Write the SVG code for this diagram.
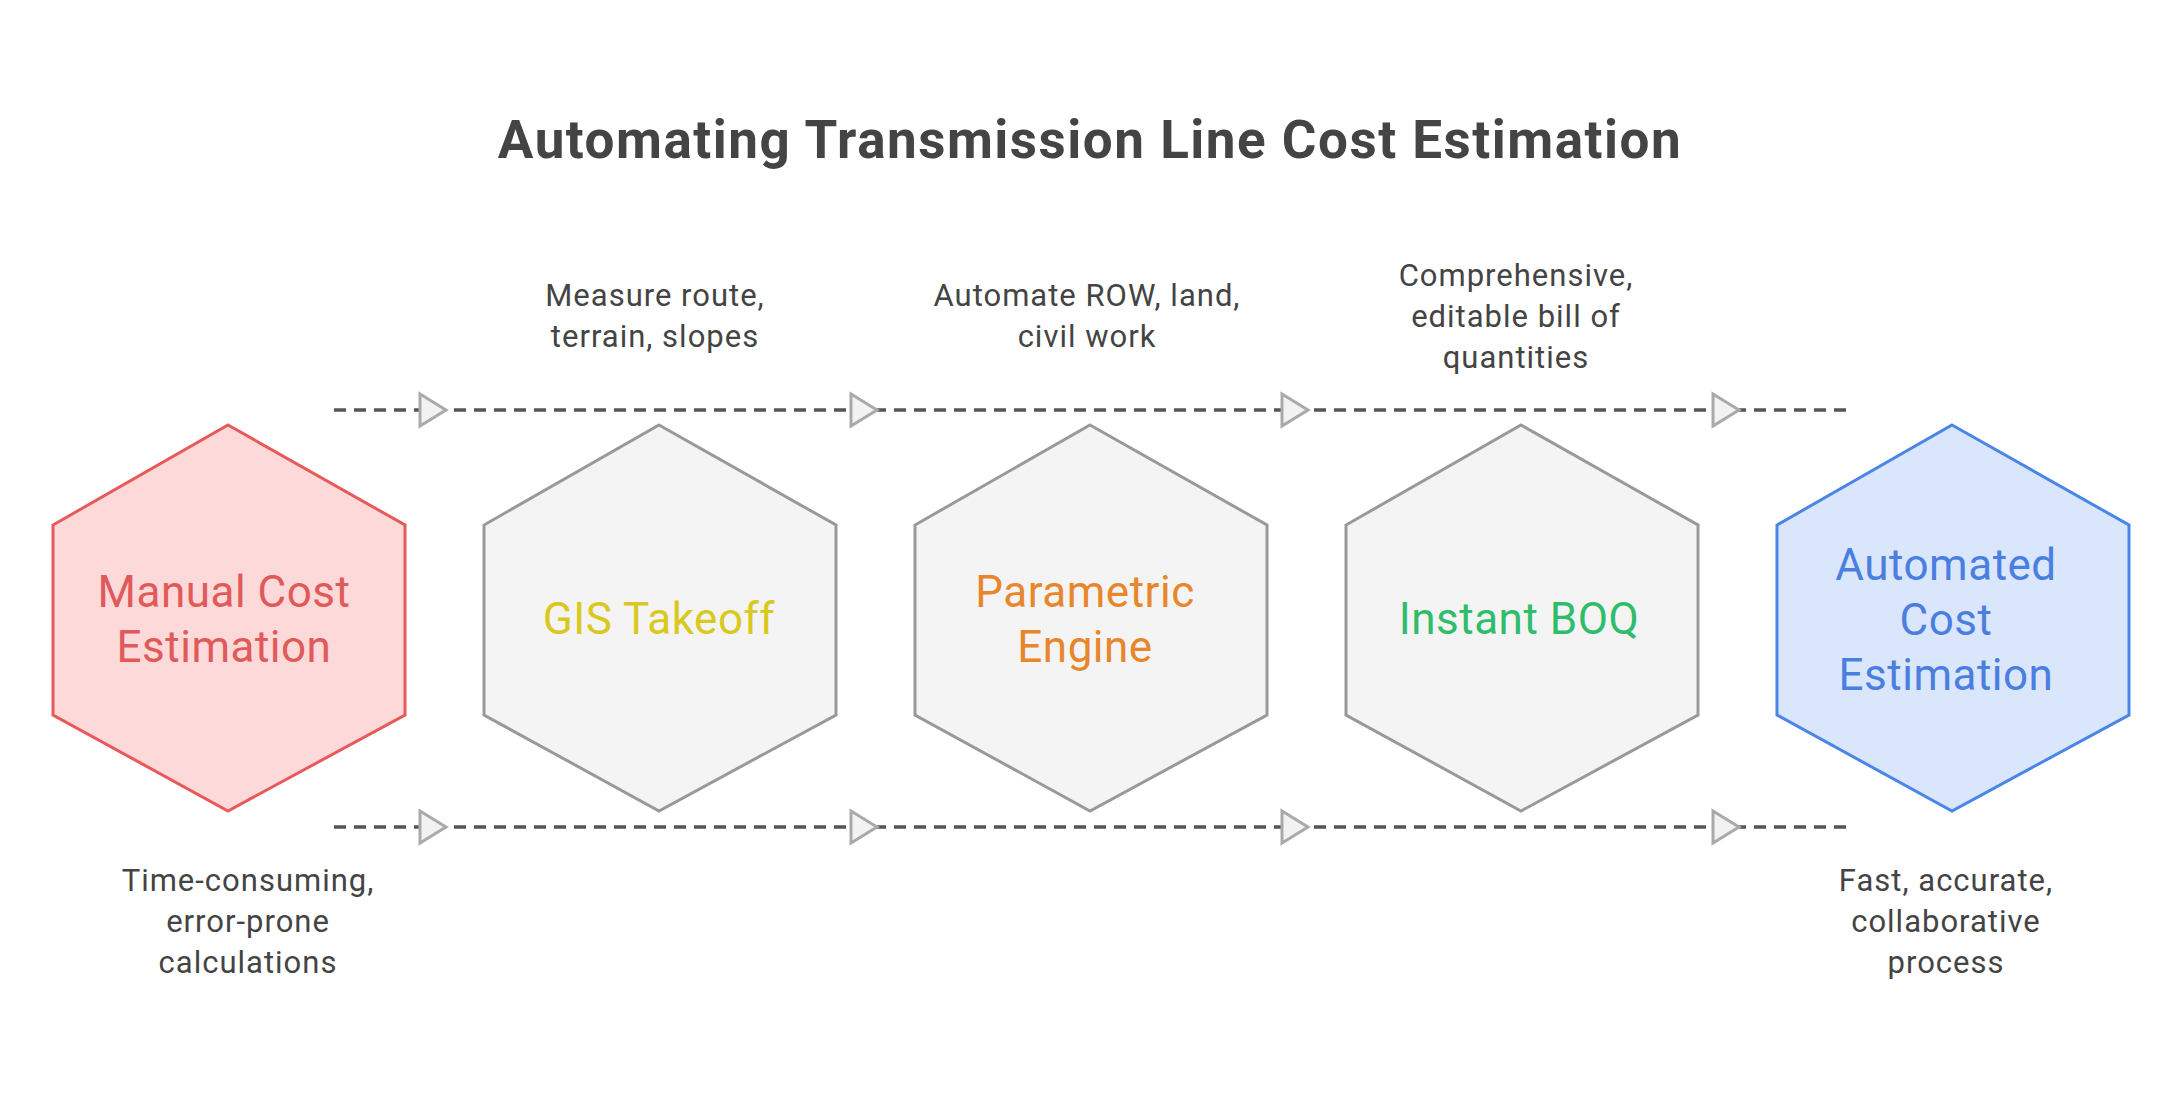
<svg xmlns="http://www.w3.org/2000/svg" width="2182" height="1120" viewBox="0 0 2182 1120">
<style>
text{font-family:Roboto,"Liberation Sans",sans-serif;text-anchor:middle}
.t{font-size:53px;font-weight:bold;fill:#444;letter-spacing:1.5px}
.l{font-size:31px;fill:#444;letter-spacing:1px}
.n{font-size:44px;letter-spacing:0.5px}
.d{stroke:#555;stroke-width:3.5;stroke-dasharray:12 8;fill:none}
.a{fill:#f2f2f2;stroke:#aaa;stroke-width:3}
.g{fill:#f4f4f4;stroke:#999;stroke-width:3}
</style>
<rect width="2182" height="1120" fill="#fff"/>
<text class="t" x="1090" y="158">Automating Transmission Line Cost Estimation</text>
<g id="connectors">
<line class="d" x1="334" y1="410" x2="1848" y2="410"/>
<line class="d" x1="334" y1="827" x2="1848" y2="827"/>
<g id="arrows">
<path class="a" d="M420 394 L446 410 L420 426 Z"/>
<path class="a" d="M851 394 L877 410 L851 426 Z"/>
<path class="a" d="M1282 394 L1308 410 L1282 426 Z"/>
<path class="a" d="M1713 394 L1739 410 L1713 426 Z"/>
<path class="a" d="M420 811 L446 827 L420 843 Z"/>
<path class="a" d="M851 811 L877 827 L851 843 Z"/>
<path class="a" d="M1282 811 L1308 827 L1282 843 Z"/>
<path class="a" d="M1713 811 L1739 827 L1713 843 Z"/>
</g>
</g>
<g id="manual">
<path d="M228 425 L405 525 L405 715 L228 811 L53 715 L53 525 Z" fill="#fdd9d9" stroke="#e85a5a" stroke-width="3"/>
<text class="n" x="224" y="607" fill="#e05a5a">Manual Cost</text>
<text class="n" x="224" y="662" fill="#e05a5a">Estimation</text>
<text class="l" x="248" y="891">Time-consuming,</text>
<text class="l" x="248" y="932">error-prone</text>
<text class="l" x="248" y="973">calculations</text>
</g>
<g id="gis">
<path class="g" d="M659 425 L836 525 L836 715 L659 811 L484 715 L484 525 Z"/>
<text class="n" x="659" y="634" fill="#d9c820">GIS Takeoff</text>
<text class="l" x="655" y="306">Measure route,</text>
<text class="l" x="655" y="347">terrain, slopes</text>
</g>
<g id="parametric">
<path class="g" d="M1090 425 L1267 525 L1267 715 L1090 811 L915 715 L915 525 Z"/>
<text class="n" x="1085" y="607" fill="#e8862c">Parametric</text>
<text class="n" x="1085" y="662" fill="#e8862c">Engine</text>
<text class="l" x="1087" y="306">Automate ROW, land,</text>
<text class="l" x="1087" y="347">civil work</text>
</g>
<g id="boq">
<path class="g" d="M1521 425 L1698 525 L1698 715 L1521 811 L1346 715 L1346 525 Z"/>
<text class="n" x="1519" y="634" fill="#2fbd6c">Instant BOQ</text>
<text class="l" x="1516" y="286">Comprehensive,</text>
<text class="l" x="1516" y="327">editable bill of</text>
<text class="l" x="1516" y="368">quantities</text>
</g>
<g id="automated">
<path d="M1952 425 L2129 525 L2129 715 L1952 811 L1777 715 L1777 525 Z" fill="#dae6fb" stroke="#4a86e8" stroke-width="3"/>
<text class="n" x="1946" y="580" fill="#4a7fe0">Automated</text>
<text class="n" x="1946" y="635" fill="#4a7fe0">Cost</text>
<text class="n" x="1946" y="690" fill="#4a7fe0">Estimation</text>
<text class="l" x="1946" y="891">Fast, accurate,</text>
<text class="l" x="1946" y="932">collaborative</text>
<text class="l" x="1946" y="973">process</text>
</g>
</svg>
